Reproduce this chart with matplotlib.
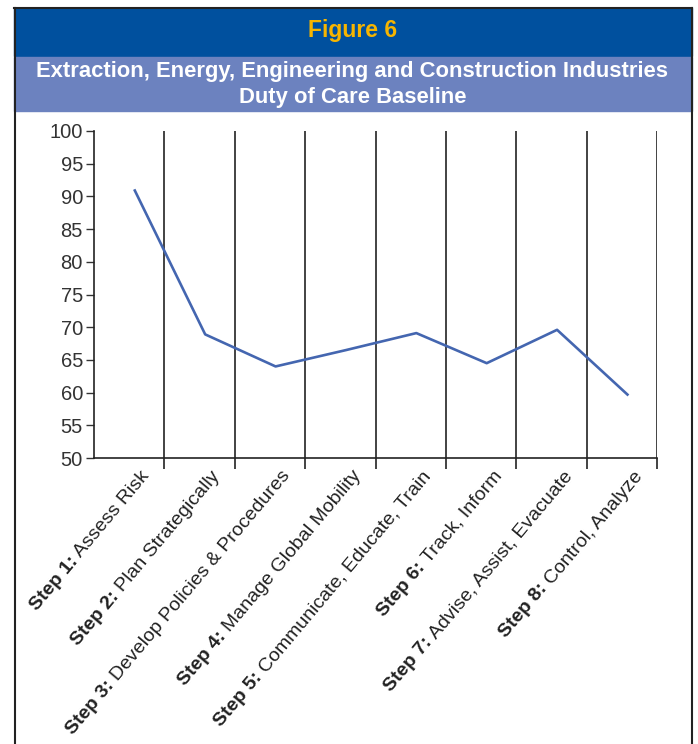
import math
import matplotlib.pyplot as plt
from matplotlib.patches import Rectangle
from matplotlib.lines import Line2D

plt.rcParams['font.family'] = ['Liberation Sans', 'DejaVu Sans']

# Data
steps = ['Step 1:', 'Step 2:', 'Step 3:', 'Step 4:', 'Step 5:', 'Step 6:', 'Step 7:', 'Step 8:']
names = ['Assess Risk', 'Plan Strategically', 'Develop Policies & Procedures',
         'Manage Global Mobility', 'Communicate, Educate, Train', 'Track, Inform',
         'Advise, Assist, Evacuate', 'Control, Analyze']
scores = [90.9, 68.9, 64.0, 66.5, 69.1, 64.5, 69.6, 59.7]
y_ticks = list(range(50, 101, 5))

W, H = 698, 744
DPI = 100
fig = plt.figure(figsize=(W / DPI, H / DPI), dpi=DPI)

# frame and header bands (figure pixel coords -> fraction)
def fx(px):
    return px / W

def fy(py):
    return 1 - py / H

fig.patches.append(Rectangle((fx(14), fy(56)), fx(692) - fx(14), fy(8) - fy(56),
                             transform=fig.transFigure, color='#00509e', zorder=0))
fig.patches.append(Rectangle((fx(14), fy(111)), fx(692) - fx(14), fy(57) - fy(111),
                             transform=fig.transFigure, color='#6c82bf', zorder=0))
for xp in (14.5, 691.5):
    fig.lines.append(Line2D([fx(xp), fx(xp)], [fy(8), 0], transform=fig.transFigure,
                            color='#222222', lw=1.5))
fig.lines.append(Line2D([fx(14), fx(692)], [fy(8), fy(8)], transform=fig.transFigure,
                        color='#222222', lw=1.5))

fig.text(0.505, fy(31), 'Figure 6', color='#f7b500', fontsize=16.5, fontweight='bold',
         ha='center', va='center')
fig.text(0.505, fy(71), 'Extraction, Energy, Engineering and Construction Industries',
         color='white', fontsize=15.8, fontweight='bold', ha='center', va='center')
fig.text(0.505, fy(97), 'Duty of Care Baseline', color='white', fontsize=15.8,
         fontweight='bold', ha='center', va='center')

ax = fig.add_axes([fx(94), fy(458), fx(657) - fx(94), fy(131) - fy(458)])
x = list(range(1, len(scores) + 1))
# points sit a little right of the category centre in the original
ax.plot([xi + 0.08 for xi in x], scores, color='#4466b0', lw=1.9, zorder=3)

ax.set_xlim(0.5, len(scores) + 0.5)
ax.set_ylim(50, 100)
ax.set_yticks(y_ticks)
ax.tick_params(axis='y', direction='out', length=6, width=1, color='#333333',
               labelsize=14.5, labelcolor='#333333', pad=2)

bounds = [i + 0.5 for i in x]
ax.set_xticks(bounds)
ax.set_xticklabels([])
ax.tick_params(axis='x', direction='out', length=8, width=1.2, color='#222222')
for b in bounds:
    ax.axvline(b, color='#222222', lw=1.2, zorder=1)

for s in ('top', 'right'):
    ax.spines[s].set_visible(False)
for s in ('left', 'bottom'):
    ax.spines[s].set_color('#222222')
    ax.spines[s].set_linewidth(1.2)

# rotated labels: regular part first, bold "Step n:" placed in front of it
angle = 50
fs = 14
renderer = fig.canvas.get_renderer()
cos_a = math.cos(math.radians(angle))
sin_a = math.sin(math.radians(angle))
for xi, st, nm in zip(x, steps, names):
    off = (8, -7)
    ax.annotate(nm, xy=(xi, 50), xycoords='data', xytext=off,
                textcoords='offset points', rotation=angle, rotation_mode='anchor',
                ha='right', va='top', fontsize=fs, color='#222222')
    probe = fig.text(0, 0, ' ' + nm, fontsize=fs)
    w_pt = probe.get_window_extent(renderer).width * 72 / DPI
    probe.remove()
    ax.annotate(st, xy=(xi, 50), xycoords='data',
                xytext=(off[0] - w_pt * cos_a, off[1] - w_pt * sin_a),
                textcoords='offset points', rotation=angle, rotation_mode='anchor',
                ha='right', va='top', fontsize=fs, fontweight='bold', color='#222222')

fig.savefig('out.png', dpi=DPI)
